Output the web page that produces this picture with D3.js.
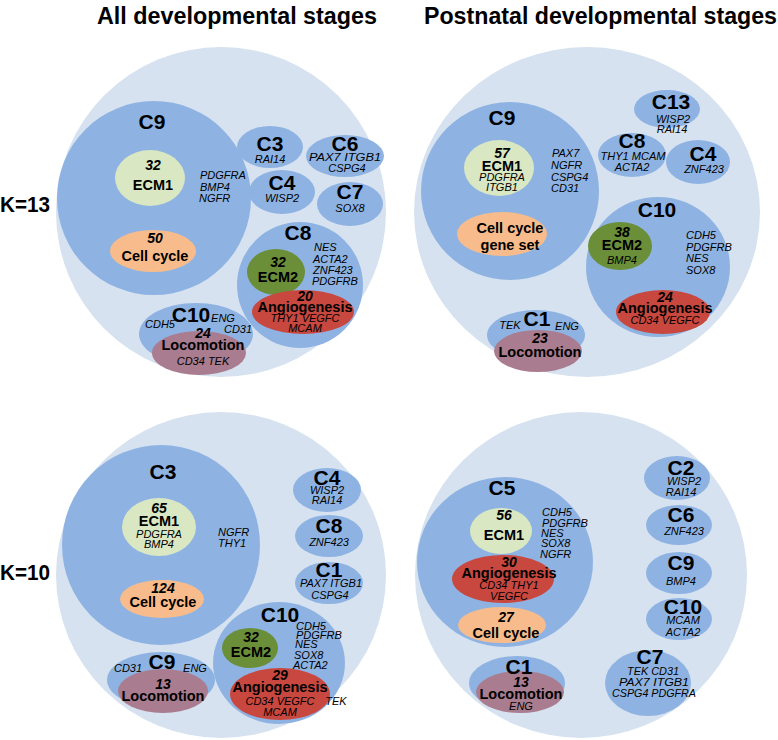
<!DOCTYPE html>
<html><head><meta charset="utf-8">
<script src="https://cdn.jsdelivr.net/npm/d3@7"></script>
<style>body{margin:0;background:#fff}svg{display:block}</style>
</head><body>
<script>
const W = 778, H = 740;

// ---------- DATA ----------
const stageTitles = ["All developmental stages", "Postnatal developmental stages"];
const kLabels = ["K=13", "K=10"];
const processTypes = ["ECM1", "ECM2", "Cell cycle", "Angiogenesis", "Locomotion"];

// Panel A: all stages, K=13
const clustersA = ["C9", "C3", "C6", "C4", "C7", "C8", "C10"];
const processesA = [
  {cluster: "C9", type: "ECM1", count: 32, name: ["ECM1"], genes: []},
  {cluster: "C9", type: "Cell cycle", count: 50, name: ["Cell cycle"], genes: []},
  {cluster: "C8", type: "ECM2", count: 32, name: ["ECM2"], genes: []},
  {cluster: "C8", type: "Angiogenesis", count: 20, name: ["Angiogenesis"], genes: ["THY1  VEGFC", "MCAM"]},
  {cluster: "C10", type: "Locomotion", count: 24, name: ["Locomotion"], genes: ["CD34 TEK"]}
];
const genesA = ["PDGFRA", "BMP4", "NGFR", "RAI14", "PAX7 ITGB1", "CSPG4", "WISP2", "SOX8",
  "NES", "ACTA2", "ZNF423", "PDGFRB", "CDH5", "ENG", "CD31"];

// Panel B: postnatal stages, K=13
const clustersB = ["C9", "C13", "C8", "C4", "C10", "C1"];
const processesB = [
  {cluster: "C9", type: "ECM1", count: 57, name: ["ECM1"], genes: ["PDGFRA", "ITGB1"]},
  {cluster: "C9", type: "Cell cycle", count: null, name: ["Cell cycle", "gene set"], genes: []},
  {cluster: "C10", type: "ECM2", count: 38, name: ["ECM2"], genes: ["BMP4"]},
  {cluster: "C10", type: "Angiogenesis", count: 24, name: ["Angiogenesis"], genes: ["CD34  VEGFC"]},
  {cluster: "C1", type: "Locomotion", count: 23, name: ["Locomotion"], genes: []}
];
const genesB = ["PAX7", "NGFR", "CSPG4", "CD31", "WISP2", "RAI14", "THY1 MCAM", "ACTA2", "ZNF423",
  "CDH5", "PDGFRB", "NES", "SOX8", "TEK", "ENG"];

// Panel C: all stages, K=10
const clustersC = ["C3", "C4", "C8", "C1", "C10", "C9"];
const processesC = [
  {cluster: "C3", type: "ECM1", count: 65, name: ["ECM1"], genes: ["PDGFRA", "BMP4"]},
  {cluster: "C3", type: "Cell cycle", count: 124, name: ["Cell cycle"], genes: []},
  {cluster: "C10", type: "ECM2", count: 32, name: ["ECM2"], genes: []},
  {cluster: "C10", type: "Angiogenesis", count: 29, name: ["Angiogenesis"], genes: ["CD34   VEGFC", "MCAM"]},
  {cluster: "C9", type: "Locomotion", count: 13, name: ["Locomotion"], genes: []}
];
const genesC = ["NGFR", "THY1", "WISP2", "RAI14", "ZNF423", "PAX7 ITGB1", "CSPG4",
  "CDH5", "PDGFRB", "NES", "SOX8", "ACTA2", "TEK", "CD31", "ENG"];

// Panel D: postnatal stages, K=10
const clustersD = ["C5", "C2", "C6", "C9", "C10", "C7", "C1"];
const processesD = [
  {cluster: "C5", type: "ECM1", count: 56, name: ["ECM1"], genes: []},
  {cluster: "C5", type: "Angiogenesis", count: 30, name: ["Angiogenesis"], genes: ["CD34  THY1", "VEGFC"]},
  {cluster: "C5", type: "Cell cycle", count: 27, name: ["Cell cycle"], genes: []},
  {cluster: "C1", type: "Locomotion", count: 13, name: ["Locomotion"], genes: ["ENG"]}
];
const genesD = ["CDH5", "PDGFRB", "NES", "SOX8", "NGFR", "WISP2", "RAI14", "ZNF423", "BMP4",
  "MCAM", "ACTA2", "TEK CD31", "PAX7 ITGB1", "CSPG4 PDGFRA"];

// ---------- STYLE ----------
const processColors = ["#d9e7c3", "#6b8e38", "#f8bc8c", "#c8483f", "#a97c8f"];
const outerColor = "#d6e2f0";
const clusterColor = "#8eb3e2";
const FONT = "'Liberation Sans', Arial, Helvetica, sans-serif";
const SIZE_CLUSTER = 21, SIZE_COUNT = 14, SIZE_NAME = 14.5, SIZE_GENE = 11;

// ---------- LAYOUT (panel-local pixels) ----------
const layoutA = {
  origin: [0, 40], outer: [221, 172, 165, 165],
  ell: {C9: [154, 158, 97, 97], C3: [270, 107, 33, 21], C6: [345, 116, 39, 21], C4: [282, 152, 33, 22],
        C7: [350, 164, 33, 22], C8: [300, 245, 63, 63], C10: [196, 294, 57, 31]},
  lab: {C9: [152, 82], C3: [270, 104], C6: [345, 104], C4: [282, 143], C7: [350, 152], C8: [298, 193], C10: [191, 275]},
  proc: [[150, 138, 35, 28, 153, [125, 145]], [153, 211, 43, 21, 155, [198, 216]],
         [276, 232, 29, 23, 278, [222, 237]], [303, 272, 51, 22, 305, [256, 267, 278, 288]],
         [199, 313, 47, 22, 203, [293, 305, 321]]],
  genes: [[200, 135, "start"], [200, 147, "start"], [199, 158, "start"], [270, 119], [345, 117, "middle", 72],
          [347, 128], [282, 158], [350, 168], [314, 207, "start"], [313, 219, "start"], [313, 230, "start"],
          [312, 241, "start"], [160, 284], [223, 278], [238, 289]]
};
const layoutB = {
  origin: [389, 40], outer: [198, 172, 173, 165],
  ell: {C9: [121, 151, 89, 89], C13: [278, 69, 33, 19], C8: [243, 115, 34, 22], C4: [309, 122, 32, 22],
        C10: [269, 227, 72, 70], C1: [147, 295, 49, 25]},
  lab: {C9: [113, 78], C13: [282, 62], C8: [243, 101], C4: [314, 114], C10: [268, 170], C1: [148, 279]},
  proc: [[110, 128, 35, 28, 113, [113, 126, 137, 147]], [113, 194, 45, 22, 121, [188, 205]],
         [231, 206, 32, 24, 233, [192, 205, 220]], [274, 272, 47, 22, 276, [257, 268, 280]],
         [149, 311, 44, 21, 151, [298, 312]]],
  genes: [[163, 113, "start"], [162, 125, "start"], [162, 137, "start"], [162, 148, "start"],
          [284, 79], [283, 89], [244, 116, "middle", 65], [243, 127], [315, 129],
          [297, 195, "start"], [297, 207, "start"], [297, 218, "start"], [297, 230, "start"],
          [121, 285], [178, 286]]
};
const layoutC = {
  origin: [0, 380], outer: [221, 195, 165, 163],
  ell: {C3: [161, 165, 99, 100], C4: [327, 110, 34, 22], C8: [329, 156, 34, 21], C1: [329, 203, 34, 21],
        C10: [279, 283, 66, 61], C9: [161, 300, 54, 28]},
  lab: {C3: [163, 92], C4: [327, 98], C8: [329, 146], C1: [329, 190], C10: [280, 235], C9: [162, 282]},
  proc: [[159, 147, 37, 29, 159, [128, 141, 154, 164]], [162, 219, 42, 19, 163, [208, 222]],
         [250, 268, 28, 20, 251, [257, 272]], [280, 314, 50, 26, 280, [295, 307, 321, 332]],
         [163, 311, 45, 22, 163, [304, 316]]],
  genes: [[218, 152, "start"], [218, 163, "start"], [327, 110], [327, 120], [329, 162],
          [331, 203, "middle", 62], [330, 215],
          [296, 246, "start"], [296, 255, "start"], [295, 264, "start"], [294, 275, "start"], [293, 285, "start"],
          [336, 321], [128, 288], [195, 288]]
};
const layoutD = {
  origin: [389, 380], outer: [192, 195, 166, 163],
  ell: {C5: [116, 182, 88, 85], C2: [288, 98, 33, 22], C6: [290, 145, 33, 20], C9: [290, 193, 33, 21],
        C10: [290, 239, 33, 21], C7: [259, 303, 43, 33], C1: [128, 303, 48, 27]},
  lab: {C5: [113, 108], C2: [292, 88], C6: [292, 135], C9: [292, 183], C10: [294, 227], C7: [261, 277], C1: [130, 287]},
  proc: [[112, 151, 31, 23, 115, [135, 155]], [114, 199, 51, 24, 120, [182, 193, 205, 216]],
         [113, 245, 44, 18, 117, [237, 253]], [131, 312, 44, 21, 132, [302, 314, 326]]],
  genes: [[153, 132, "start"], [153, 143, "start"], [152, 153, "start"], [152, 163, "start"], [151, 174, "start"],
          [295, 101], [292, 112], [295, 151], [292, 201], [294, 240], [294, 252],
          [264, 291, "middle", 52], [265, 302, "middle", 70], [265, 313, "middle", 84]]
};

const panels = [
  [clustersA, processesA, genesA, layoutA],
  [clustersB, processesB, genesB, layoutB],
  [clustersC, processesC, genesC, layoutC],
  [clustersD, processesD, genesD, layoutD]
];

// ---------- DRAW ----------
const svg = d3.select("body").append("svg").attr("width", W).attr("height", H)
  .style("font-family", FONT);
const color = d3.scaleOrdinal().domain(processTypes).range(processColors);

function label(g, x, y, str, size, weight, style, anchor, width) {
  const t = g.append("text").attr("x", x).attr("y", y).attr("dy", "0.35em")
    .attr("text-anchor", anchor || "middle")
    .attr("font-size", size).attr("font-weight", weight).attr("font-style", style)
    .attr("fill", "#000").text(str);
  if (width) t.attr("textLength", width).attr("lengthAdjust", "spacingAndGlyphs");
  return t;
}

panels.forEach(([clusters, procs, genes, L]) => {
  const x = d3.scaleLinear().domain([0, 1]).range([L.origin[0], L.origin[0] + 1]);
  const y = d3.scaleLinear().domain([0, 1]).range([L.origin[1], L.origin[1] + 1]);
  const g = svg.append("g");

  g.append("ellipse").attr("cx", x(L.outer[0])).attr("cy", y(L.outer[1]))
    .attr("rx", L.outer[2]).attr("ry", L.outer[3]).attr("fill", outerColor);

  g.selectAll("ellipse.cluster").data(clusters).join("ellipse").attr("class", "cluster")
    .attr("cx", d => x(L.ell[d][0])).attr("cy", d => y(L.ell[d][1]))
    .attr("rx", d => L.ell[d][2]).attr("ry", d => L.ell[d][3]).attr("fill", clusterColor);

  g.selectAll("ellipse.proc").data(procs).join("ellipse").attr("class", "proc")
    .attr("cx", (d, i) => x(L.proc[i][0])).attr("cy", (d, i) => y(L.proc[i][1]))
    .attr("rx", (d, i) => L.proc[i][2]).attr("ry", (d, i) => L.proc[i][3])
    .attr("fill", d => color(d.type));

  clusters.forEach(c => label(g, x(L.lab[c][0]), y(L.lab[c][1]), c, SIZE_CLUSTER, "bold", "normal"));

  procs.forEach((p, i) => {
    const tx = x(L.proc[i][4]), ys = L.proc[i][5];
    let k = 0;
    if (p.count != null) label(g, tx, y(ys[k++]), String(p.count), SIZE_COUNT, "bold", "italic");
    p.name.forEach(n => label(g, tx, y(ys[k++]), n, SIZE_NAME, "bold", "normal"));
    p.genes.forEach(n => label(g, tx, y(ys[k++]), n, SIZE_GENE, "normal", "italic"));
  });

  genes.forEach((gn, i) => {
    const pos = L.genes[i];
    label(g, x(pos[0]), y(pos[1]), gn, SIZE_GENE, "normal", "italic", pos[2] || "middle", pos[3]);
  });
});

// titles
const titleX = d3.scalePoint().domain(stageTitles).range([97, 424]);
const titleW = [280, 353];
stageTitles.forEach((t, i) => {
  svg.append("text").attr("x", titleX(t)).attr("y", 24).attr("font-size", 23).attr("font-weight", "bold")
    .attr("textLength", titleW[i]).attr("lengthAdjust", "spacingAndGlyphs").text(t);
});
// K labels
const kY = d3.scalePoint().domain(kLabels).range([204, 572]);
kLabels.forEach(k => {
  svg.append("text").attr("x", 0).attr("y", kY(k)).attr("dy", "0.35em").attr("font-size", 22)
    .attr("font-weight", "bold").attr("textLength", 50).attr("lengthAdjust", "spacingAndGlyphs").text(k);
});
</script>
</body></html>
